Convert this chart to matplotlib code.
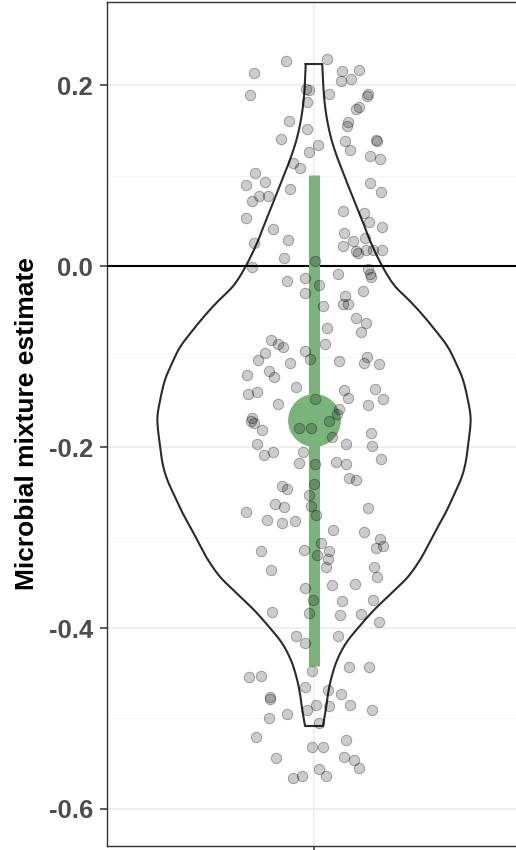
import matplotlib.pyplot as plt
import numpy as np

plt.rcParams['font.family'] = ['Liberation Sans', 'DejaVu Sans']

# jittered observations (x offset from the category centre, estimate)
jitter_x = [-0.081, 0.039, -0.175, 0.082, 0.130, 0.078, 0.107, -0.186, -0.022, -0.014,
            0.044, 0.156, 0.154, -0.020, 0.122, 0.131, -0.072, 0.099, 0.095, -0.020,
            -0.096, 0.089, 0.180, 0.182, 0.012, -0.014, 0.104, 0.162, 0.192, -0.171,
            -0.061, -0.041, -0.143, -0.197, -0.070, -0.159, -0.133, -0.181, 0.161, 0.194,
            -0.196, -0.118, -0.074, -0.174, -0.088, -0.180, 0.085, 0.146, 0.158, 0.197,
            0.086, 0.148, 0.114, 0.085, 0.123, 0.128, 0.151, 0.170, 0.196, 0.004,
            0.070, 0.156, 0.162, 0.165, -0.079, -0.027, 0.014, -0.025, 0.089, 0.142,
            0.026, 0.083, 0.098, 0.122, 0.152, 0.137, 0.039, 0.033, -0.126, -0.105,
            -0.091, -0.142, -0.162, -0.026, -0.013, -0.070, 0.072, 0.154, 0.146, 0.189,
            -0.194, -0.131, -0.117, -0.191, -0.165, -0.051, -0.105, 0.086, 0.099, 0.177,
            0.199, 0.157, 0.003, 0.072, 0.067, -0.179, -0.183, -0.175, -0.150, -0.043,
            -0.010, 0.043, 0.051, 0.166, 0.092, 0.167, 0.194, -0.165, -0.145, -0.118,
            -0.033, -0.044, 0.003, 0.065, 0.094, 0.101, 0.122, -0.093, -0.078, -0.014,
            0.001, -0.112, -0.087, -0.009, 0.006, -0.197, 0.156, -0.137, -0.092, -0.056,
            0.054, 0.145, 0.191, 0.200, 0.180, -0.154, -0.028, 0.020, 0.044, 0.009,
            0.041, 0.034, -0.124, 0.173, 0.183, -0.027, 0.053, 0.119, -0.002, 0.081,
            0.172, -0.122, -0.015, 0.074, 0.136, 0.189, -0.051, -0.027, 0.070, -0.006,
            0.101, 0.160, -0.187, -0.154, -0.128, -0.128, -0.027, 0.041, 0.079, 0.005,
            -0.019, 0.043, 0.105, 0.168, -0.079, -0.130, 0.014, -0.169, 0.093, -0.005,
            0.025, -0.110, 0.087, 0.116, 0.130, 0.015, 0.035, -0.060, -0.034]
estimate = [0.2271, 0.2284, 0.2129, 0.2158, 0.2169, 0.2039, 0.2070, 0.1895, 0.1954, 0.1941,
            0.1906, 0.1901, 0.1878, 0.1814, 0.1731, 0.1755, 0.1600, 0.1591, 0.1544, 0.1514,
            0.1409, 0.1383, 0.1398, 0.1383, 0.1340, 0.1257, 0.1287, 0.1221, 0.1182, 0.1028,
            0.1140, 0.1088, 0.0931, 0.0893, 0.0851, 0.0777, 0.0777, 0.0722, 0.0919, 0.0821,
            0.0533, 0.0409, 0.0282, 0.0252, 0.0092, -0.0009, 0.0606, 0.0588, 0.0484, 0.0434,
            0.0365, 0.0307, 0.0271, 0.0223, 0.0168, 0.0147, 0.0180, 0.0173, 0.0173, 0.0050,
            -0.0091, -0.0036, -0.0088, -0.0116, -0.0166, -0.0127, -0.0208, -0.0295, -0.0334, -0.0276,
            -0.0442, -0.0422, -0.0422, -0.0578, -0.0628, -0.0724, -0.0688, -0.0862, -0.0818, -0.0865,
            -0.0897, -0.0961, -0.1039, -0.0939, -0.1033, -0.1075, -0.1053, -0.1003, -0.1074, -0.1088,
            -0.1202, -0.1164, -0.1227, -0.1414, -0.1387, -0.1340, -0.1528, -0.1367, -0.1455, -0.1354,
            -0.1464, -0.1539, -0.1473, -0.1575, -0.1632, -0.1674, -0.1715, -0.1735, -0.1810, -0.1790,
            -0.1793, -0.1718, -0.1886, -0.1849, -0.1969, -0.1992, -0.2129, -0.1972, -0.2086, -0.2059,
            -0.2057, -0.2175, -0.2190, -0.2169, -0.2185, -0.2337, -0.2367, -0.2428, -0.2467, -0.2525,
            -0.2411, -0.2635, -0.2661, -0.2654, -0.2746, -0.2720, -0.2669, -0.2809, -0.2836, -0.2815,
            -0.2917, -0.2941, -0.3020, -0.3096, -0.3118, -0.3151, -0.3133, -0.3064, -0.3149, -0.3196,
            -0.3238, -0.3323, -0.3354, -0.3323, -0.3433, -0.3555, -0.3530, -0.3516, -0.3687, -0.3698,
            -0.3691, -0.3827, -0.3831, -0.3853, -0.3843, -0.3936, -0.4086, -0.4169, -0.4088, -0.4477,
            -0.4429, -0.4433, -0.4536, -0.4525, -0.4759, -0.4781, -0.4652, -0.4685, -0.4729, -0.4851,
            -0.4906, -0.4862, -0.4851, -0.4906, -0.4947, -0.4991, -0.5053, -0.5208, -0.5241, -0.5312,
            -0.5312, -0.5440, -0.5422, -0.5462, -0.5550, -0.5561, -0.5632, -0.5654, -0.5632]

# violin outline: estimate level and half width
violin_y = [0.2232, 0.2055, 0.1834, 0.1613, 0.1392, 0.1171, 0.1006, 0.0840, 0.0641, 0.0453,
            0.0265, 0.0011, -0.0210, -0.0376, -0.0519, -0.0707, -0.0895, -0.1094, -0.1260, -0.1481,
            -0.1702, -0.2000, -0.2199, -0.2365, -0.2552, -0.2729, -0.2917, -0.3105, -0.3249, -0.3436,
            -0.3613, -0.3801, -0.3989, -0.4166, -0.4354, -0.4541, -0.4718, -0.4906, -0.5083]
violin_hw = [0.024, 0.026, 0.030, 0.038, 0.051, 0.070, 0.087, 0.104, 0.125, 0.145,
             0.164, 0.196, 0.232, 0.275, 0.310, 0.351, 0.388, 0.414, 0.432, 0.446,
             0.454, 0.446, 0.438, 0.425, 0.403, 0.381, 0.354, 0.328, 0.307, 0.272,
             0.225, 0.174, 0.130, 0.093, 0.067, 0.051, 0.041, 0.034, 0.026]

# summary: median and interval
median = -0.170
interval = [-0.442, 0.1006]


def catmull_rom(px, py, n=8):
    # smooth the read-off outline for drawing
    px = np.asarray(px, float)
    py = np.asarray(py, float)
    P = np.column_stack([px, py])
    P = np.vstack([P[0], P, P[-1]])
    out = []
    t = np.linspace(0, 1, n, endpoint=False)[:, None]
    for i in range(1, len(P) - 2):
        p0, p1, p2, p3 = P[i - 1], P[i], P[i + 1], P[i + 2]
        seg = 0.5 * ((2 * p1) + (-p0 + p2) * t + (2 * p0 - 5 * p1 + 4 * p2 - p3) * t ** 2
                     + (-p0 + 3 * p1 - 3 * p2 + p3) * t ** 3)
        out.append(seg)
    out.append(P[-2][None, :])
    out = np.vstack(out)
    return out[:, 0], out[:, 1]


fig = plt.figure(figsize=(5.16, 8.5), dpi=100)
ax = fig.add_axes([0.2074, 0.0047, 0.8023, 0.9929])
ax.set_xlim(0.4, 1.6)
ax.set_ylim(-0.6409, 0.2917)

ax.set_yticks([-0.6, -0.4, -0.2, 0.0, 0.2])
ax.set_yticks([-0.5, -0.3, -0.1, 0.1], minor=True)
ax.set_yticklabels(['-0.6', '-0.4', '-0.2', '0.0', '0.2'])
ax.set_xticks([1])
ax.set_xticklabels([''])
ax.grid(True, which='major', color='#ebebeb', lw=1.1)
ax.grid(True, which='minor', axis='y', color='#f4f4f4', lw=0.7)
ax.set_axisbelow(True)
ax.tick_params(axis='y', which='major', labelsize=18.5, labelcolor='#4d4d4d',
               color='#333333', length=5, width=1.1, pad=5)
ax.tick_params(axis='y', which='minor', length=0)
ax.tick_params(axis='x', color='#333333', length=5, width=1.1)
for lab in ax.get_yticklabels():
    lab.set_fontweight('bold')
for s in ax.spines.values():
    s.set_color('#333333')
    s.set_linewidth(1.0)

ax.set_ylabel('Microbial mixture estimate', fontsize=19, fontweight='bold')
ax.yaxis.set_label_coords(-0.164, 0.5)

vy = np.array(violin_y)
vw = np.array(violin_hw)
sw, sy = catmull_rom(vw, vy)
xs = np.concatenate([1 - sw, (1 + sw)[::-1], [1 - sw[0]]])
ys = np.concatenate([sy, sy[::-1], [sy[0]]])
ax.plot(xs, ys, color='#2b2b2b', lw=1.5, zorder=2)

ax.axhline(0, color='black', lw=1.5, zorder=3)

ax.plot([1, 1], interval, color='#7bb47b', lw=8, solid_capstyle='butt', zorder=4)
ax.plot([1], [median], 'o', color='#7bb47b', ms=37, zorder=4)

ax.scatter(1 + np.array(jitter_x), estimate, s=56, facecolor=(0, 0, 0, 0.2),
           edgecolor=(0, 0, 0, 0.32), linewidth=0.7, zorder=5)

fig.savefig('out.png', dpi=100)
